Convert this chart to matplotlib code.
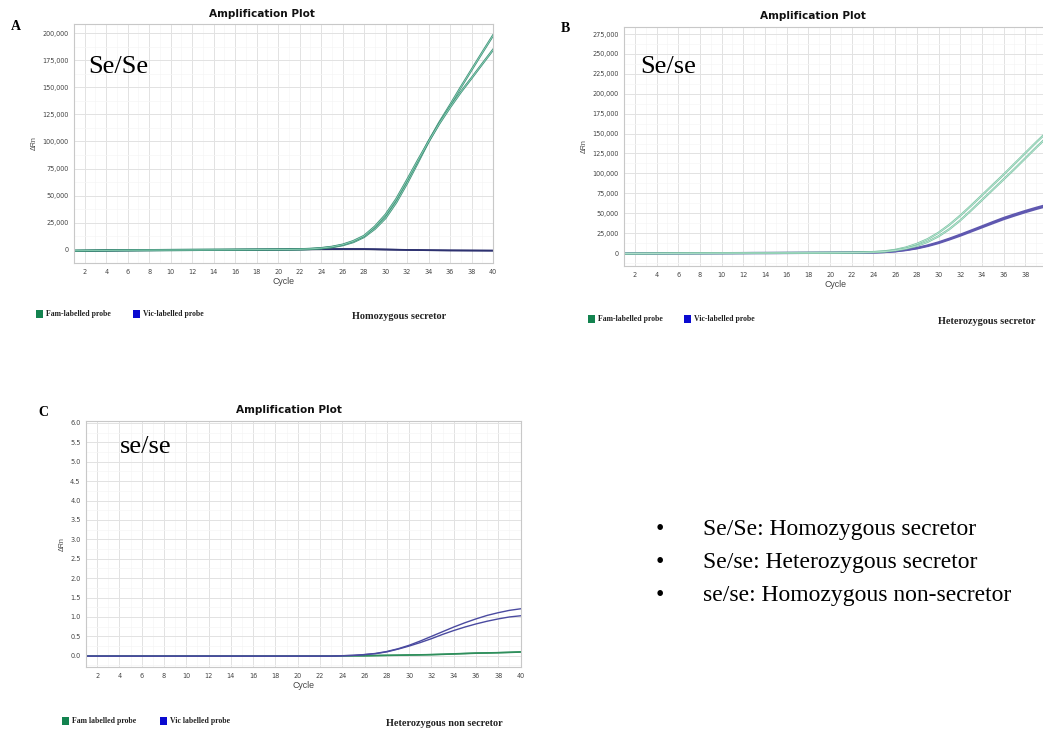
import matplotlib
matplotlib.use("Agg")
import matplotlib.pyplot as plt
from matplotlib.patches import Rectangle
from matplotlib.ticker import FuncFormatter, MultipleLocator

# ---------------- data ----------------
cycles = list(range(1, 41))

# Panel A: homozygous secretor (Se/Se)
a_fam_1 = [-700, -600, -500, -400, -300, -250, -200, -150, -100, -50,
           0, 50, 100, 150, 200, 250, 300, 350, 400, 450,
           500, 600, 900, 1500, 2600, 4400, 7300, 12000, 19500, 29500,
           44000, 61500, 80500, 100000, 117500, 133500, 150000, 166000, 182000, 197700]
a_fam_2 = [-700, -600, -500, -400, -300, -250, -200, -150, -100, -50,
           0, 50, 100, 150, 200, 250, 300, 350, 400, 450,
           500, 650, 1000, 1700, 2900, 4900, 8200, 13000, 21500, 32500,
           47000, 64500, 82500, 99900, 116500, 131500, 145500, 158400, 171500, 184500]
a_vic_1 = [-800, -700, -600, -500, -400, -300, -250, -200, -150, -100,
           -50, 0, 50, 100, 150, 200, 250, 300, 350, 400,
           500, 600, 700, 800, 850, 900, 900, 850, 700, 500,
           300, 100, 0, -150, -250, -350, -400, -450, -500, -550]
a_vic_2 = [-900, -800, -700, -600, -500, -400, -300, -250, -200, -150,
           -100, -50, 0, 50, 100, 150, 200, 250, 300, 350,
           450, 550, 650, 700, 750, 800, 800, 750, 600, 400,
           200, 0, -100, -250, -350, -450, -500, -550, -600, -650]

# Panel B: heterozygous secretor (Se/se)
b_fam_1 = [-800, -700, -600, -500, -400, -350, -300, -250, -200, -150,
           -100, -50, 0, 0, 50, 100, 150, 200, 250, 300,
           400, 550, 900, 1300, 2200, 4000, 7000, 11500, 17500, 25500,
           35500, 47000, 59500, 72500, 85500, 98500, 112000, 125500, 139000, 152000]
b_fam_2 = [-800, -700, -600, -500, -400, -350, -300, -250, -200, -150,
           -100, -50, 0, 0, 50, 100, 150, 200, 250, 300,
           400, 500, 800, 1100, 1800, 3300, 5600, 9000, 14000, 21000,
           30000, 41000, 53500, 66500, 79500, 92500, 105500, 119000, 132500, 145500]
b_vic_1 = [-800, -700, -600, -500, -400, -350, -300, -250, -200, -150,
           -100, -50, 0, 0, 50, 100, 150, 200, 250, 300,
           400, 500, 650, 800, 1300, 2300, 4000, 6300, 9500, 13400,
           18000, 23000, 28200, 33500, 38800, 44000, 48500, 52800, 56800, 60500]
b_vic_2 = [-900, -800, -700, -600, -500, -400, -350, -300, -250, -200,
           -150, -100, -50, 0, 0, 50, 100, 150, 200, 250,
           350, 450, 600, 750, 1200, 2100, 3700, 5800, 8800, 12500,
           17000, 21800, 27000, 32200, 37400, 42500, 47000, 51300, 55300, 59000]

# Panel C: homozygous non-secretor (se/se)
c_fam_1 = [-0.01, -0.01, -0.01, -0.01, -0.01, -0.01, -0.01, -0.01, -0.01, -0.01,
           -0.01, -0.01, -0.01, -0.01, -0.01, -0.01, -0.01, -0.01, -0.01, -0.01,
           -0.01, -0.01, -0.01, 0.0, 0.0, 0.0, 0.005, 0.01, 0.015, 0.02,
           0.025, 0.03, 0.04, 0.05, 0.06, 0.07, 0.075, 0.08, 0.09, 0.10]
c_fam_2 = [-0.01, -0.01, -0.01, -0.01, -0.01, -0.01, -0.01, -0.01, -0.01, -0.01,
           -0.01, -0.01, -0.01, -0.01, -0.01, -0.01, -0.01, -0.01, -0.01, -0.01,
           -0.01, -0.01, -0.01, 0.0, 0.0, 0.0, 0.005, 0.01, 0.012, 0.018,
           0.022, 0.028, 0.035, 0.045, 0.055, 0.065, 0.07, 0.078, 0.085, 0.095]
c_vic_1 = [-0.01, -0.01, -0.01, -0.01, -0.01, -0.01, -0.01, -0.01, -0.01, -0.01,
           -0.01, -0.01, -0.01, -0.01, -0.01, -0.01, -0.01, -0.01, -0.01, -0.01,
           -0.01, -0.01, -0.01, 0.0, 0.01, 0.03, 0.06, 0.11, 0.18, 0.27,
           0.38, 0.50, 0.62, 0.74, 0.85, 0.95, 1.04, 1.11, 1.17, 1.21]
c_vic_2 = [-0.01, -0.01, -0.01, -0.01, -0.01, -0.01, -0.01, -0.01, -0.01, -0.01,
           -0.01, -0.01, -0.01, -0.01, -0.01, -0.01, -0.01, -0.01, -0.01, -0.01,
           -0.01, -0.01, -0.01, 0.0, 0.01, 0.03, 0.055, 0.10, 0.17, 0.25,
           0.34, 0.44, 0.55, 0.65, 0.74, 0.82, 0.89, 0.95, 1.00, 1.03]

x_ticks = list(range(2, 41, 2))
a_yticks = list(range(0, 200001, 25000))
b_yticks = list(range(0, 275001, 25000))
c_yticks = [0.0, 0.5, 1.0, 1.5, 2.0, 2.5, 3.0, 3.5, 4.0, 4.5, 5.0, 5.5, 6.0]

genotype_notes = ["Se/Se: Homozygous secretor",
                  "Se/se: Heterozygous secretor",
                  "se/se: Homozygous non-secretor"]

# ---------------- styling ----------------
W, H = 1043, 731
fig = plt.figure(figsize=(W / 100, H / 100), dpi=100)
fig.patch.set_facecolor("white")

SERIF = ["Liberation Serif", "DejaVu Serif"]
SANS = ["Liberation Sans", "DejaVu Sans"]

FAM_GREEN = "#13834f"
VIC_BLUE = "#0a0ad0"


def px_box(left, top, right, bottom):
    return [left / W, 1 - bottom / H, (right - left) / W, (bottom - top) / H]


def style_axes(ax, yticks, ylim, fmt, title_xy):
    ax.set_xlim(1, 40)
    ax.set_ylim(*ylim)
    ax.set_xticks(x_ticks)
    ax.set_yticks(yticks)
    ax.xaxis.set_minor_locator(MultipleLocator(1))
    ax.yaxis.set_minor_locator(MultipleLocator((yticks[1] - yticks[0]) / 2))
    ax.yaxis.set_major_formatter(FuncFormatter(fmt))
    ax.grid(True, which="major", color="#e2e2e2", lw=0.7)
    ax.grid(True, which="minor", color="#f5f5f5", lw=0.5)
    ax.set_axisbelow(True)
    ax.tick_params(which="both", length=0, labelsize=4.7, labelcolor="#444444", pad=4)
    for s in ax.spines.values():
        s.set_color("#c8c8c8")
        s.set_linewidth(0.8)
    ax.set_xlabel("Cycle", fontsize=6.3, color="#444444", family=SANS, labelpad=2)
    ax.set_ylabel("ΔRn", fontsize=5, color="#444444", family=SANS, labelpad=3)
    fig.text(title_xy[0] / W, 1 - title_xy[1] / H, "Amplification Plot",
             fontsize=7.6, fontweight="bold", family=["DejaVu Sans"],
             color="#111111", ha="center", va="center")


def comma_fmt(v, _):
    return f"{int(round(v)):,}"


def dec_fmt(v, _):
    return f"{v:.1f}"


def draw_legend(y, sq1_x, t1, sq2_x, t2, note_x, note):
    for sx, col in ((sq1_x, FAM_GREEN), (sq2_x, VIC_BLUE)):
        fig.add_artist(Rectangle((sx / W, 1 - (y + 4) / H), 7 / W, 8 / H,
                                 transform=fig.transFigure, color=col, lw=0))
    fig.text((sq1_x + 10) / W, 1 - y / H, t1, fontsize=5.6, fontweight="bold",
             family=SERIF, va="center", color="#222222")
    fig.text((sq2_x + 10) / W, 1 - y / H, t2, fontsize=5.6, fontweight="bold",
             family=SERIF, va="center", color="#222222")
    fig.text(note_x / W, 1 - (y + 2) / H, note, fontsize=7.4, fontweight="bold",
             family=SERIF, va="center", color="#222222")


# ---------------- panel A ----------------
axA = fig.add_axes(px_box(74, 24, 493, 263))
style_axes(axA, a_yticks, (-12000, 208300), comma_fmt, (262, 14))
for s in (a_vic_1, a_vic_2):
    axA.plot(cycles, s, color="#2d3170", lw=1.2)
for s in (a_fam_1, a_fam_2):
    axA.plot(cycles, s, color="#3f8f78", lw=1.6)
    axA.plot(cycles, s, color="#8fd3b8", lw=0.6)
fig.text(88 / W, 1 - 67 / H, "Se/Se", fontsize=19, family=SERIF,
         va="center", ha="left")
fig.text(16 / W, 1 - 27 / H, "A", fontsize=10, fontweight="bold", family=SERIF,
         ha="center", va="center")
draw_legend(314, 36, "Fam-labelled probe", 133, "Vic-labelled probe", 352,
            "Homozygous secretor")

# ---------------- panel B ----------------
axB = fig.add_axes(px_box(624, 27, 1047, 266))
style_axes(axB, b_yticks, (-16300, 283800), comma_fmt, (813, 16))
for s in (b_vic_1, b_vic_2):
    axB.plot(cycles, s, color="#5f58b0", lw=1.6)
for s in (b_fam_1, b_fam_2):
    axB.plot(cycles, s, color="#7cc2a4", lw=1.5)
    axB.plot(cycles, s, color="#c4ecda", lw=0.5)
fig.text(640 / W, 1 - 67 / H, "Se/se", fontsize=19, family=SERIF,
         va="center", ha="left")
fig.text(565 / W, 1 - 28 / H, "B", fontsize=10, fontweight="bold", family=SERIF,
         ha="center", va="center")
draw_legend(319, 588, "Fam-labelled probe", 684, "Vic-labelled probe", 938,
            "Heterozygous secretor")

# ---------------- panel C ----------------
axC = fig.add_axes(px_box(86, 421, 520.6, 667))
style_axes(axC, c_yticks, (-0.29, 6.05), dec_fmt, (289, 410))
for s in (c_fam_1, c_fam_2):
    axC.plot(cycles, s, color="#2f8f5c", lw=1.1)
for s in (c_vic_1, c_vic_2):
    axC.plot(cycles, s, color="#4a4aa0", lw=1.0)
fig.text(120 / W, 1 - 447 / H, "se/se", fontsize=19, family=SERIF,
         va="center", ha="left")
fig.text(43 / W, 1 - 413 / H, "C", fontsize=10, fontweight="bold", family=SERIF,
         ha="center", va="center")
draw_legend(721, 62, "Fam labelled probe", 160, "Vic labelled probe", 386,
            "Heterozygous non secretor")

# ---------------- genotype key ----------------
for i, note in enumerate(genotype_notes):
    y = 530 + i * 32.5
    fig.text(660 / W, 1 - y / H, "•", fontsize=17, family=SERIF,
             ha="center", va="center")
    fig.text(703 / W, 1 - y / H, note, fontsize=17, family=SERIF,
             ha="left", va="center")

fig.savefig("out.png", dpi=100, facecolor="white")
